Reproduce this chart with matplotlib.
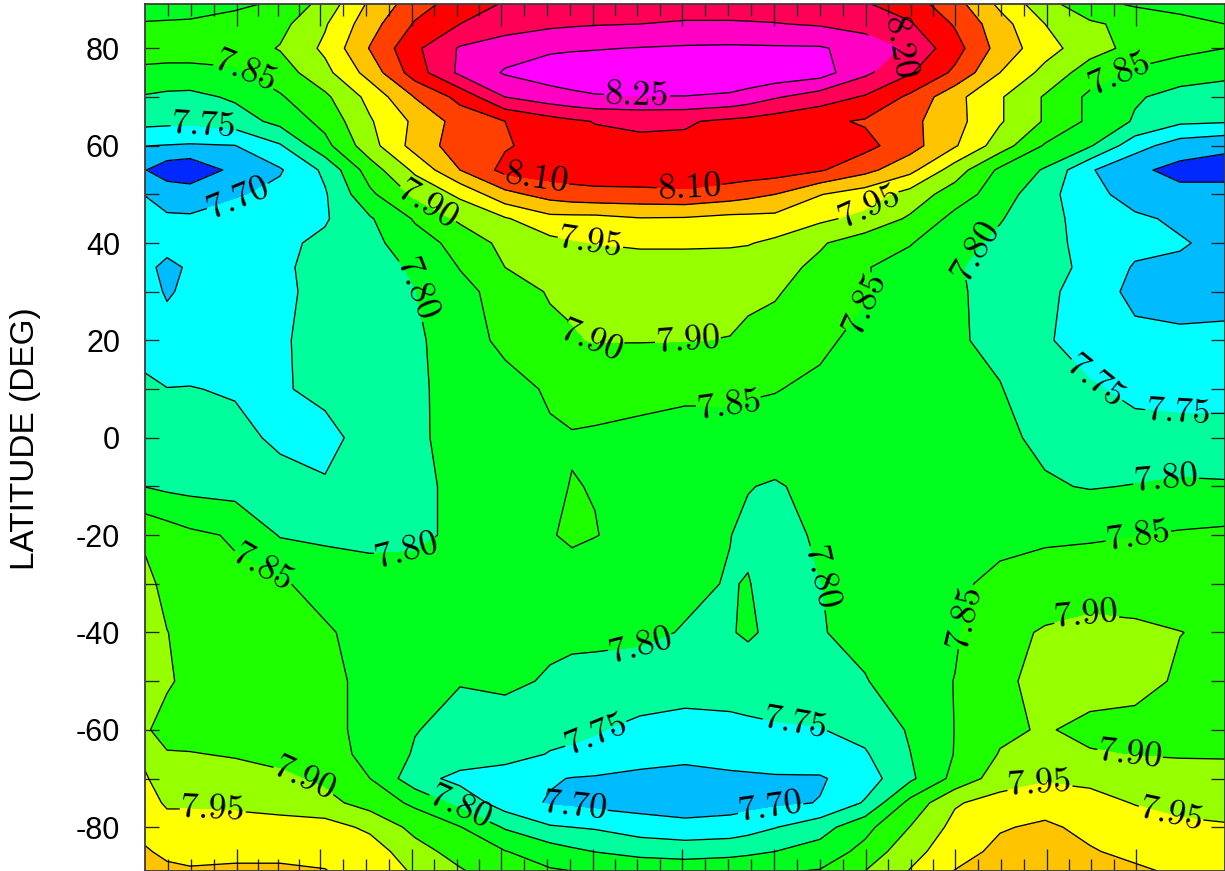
import numpy as np
import matplotlib
matplotlib.use("Agg")
import matplotlib.pyplot as plt

longitudes = [0, 7.33, 15, 30, 45, 60, 75, 90, 105, 120, 135, 142.33, 150, 165, 180, 195, 201, 210, 225, 240, 255, 270, 285, 300, 315, 330, 345, 360]
latitudes = [89, 85, 80, 75, 70, 65, 60, 55, 50, 45, 40, 35, 30, 20, 10, 0, -10, -20, -30, -40, -50, -60, -65, -70, -75, -80, -85, -89]

lat_p89 = [7.83,7.833,7.835,7.843,7.857,7.92,8.01,8.078,8.125,8.155,8.165,8.168,8.172,8.175,8.178,8.178,8.177,8.175,8.17,8.155,8.125,8.07,7.99,7.92,7.865,7.845,7.835,7.83]
lat_p85 = [7.853,7.854,7.855,7.865,7.885,7.945,8.03,8.105,8.15,8.175,8.19,8.194,8.197,8.20,8.205,8.205,8.204,8.202,8.195,8.18,8.155,8.095,8.02,7.95,7.908,7.885,7.865,7.85]
lat_p80 = [7.86,7.862,7.865,7.875,7.903,7.96,8.053,8.14,8.205,8.228,8.242,8.245,8.247,8.252,8.256,8.258,8.257,8.256,8.255,8.23,8.19,8.12,8.03,7.97,7.92,7.885,7.865,7.85]
lat_p75 = [7.845,7.842,7.84,7.842,7.875,7.935,8.02,8.125,8.21,8.255,8.275,8.28,8.285,8.29,8.295,8.295,8.291,8.285,8.272,8.21,8.155,8.09,8.00,7.935,7.875,7.84,7.82,7.81]
lat_p70 = [7.795,7.787,7.785,7.808,7.845,7.89,7.965,8.052,8.115,8.20,8.228,8.238,8.245,8.248,8.248,8.24,8.228,8.205,8.175,8.145,8.09,8.015,7.955,7.895,7.84,7.805,7.785,7.78]
lat_p65 = [7.765,7.762,7.76,7.775,7.815,7.865,7.945,8.01,8.07,8.10,8.13,8.142,8.152,8.158,8.155,8.14,8.135,8.125,8.11,8.095,8.063,8.017,7.955,7.895,7.84,7.795,7.76,7.755]
lat_p60 = [7.701,7.698,7.695,7.699,7.745,7.835,7.93,8.02,8.075,8.095,8.12,8.128,8.135,8.14,8.14,8.135,8.133,8.13,8.125,8.115,8.07,8.005,7.925,7.845,7.805,7.72,7.675,7.66]
lat_p55 = [7.652,7.62,7.61,7.665,7.695,7.76,7.875,7.96,8.05,8.115,8.125,8.128,8.13,8.135,8.135,8.13,8.128,8.125,8.105,8.065,8.015,7.925,7.84,7.795,7.705,7.66,7.635,7.63]
lat_p50 = [7.699,7.685,7.68,7.693,7.715,7.745,7.84,7.91,7.96,8.035,8.07,8.08,8.085,8.085,8.09,8.075,8.065,8.05,8.002,7.975,7.93,7.875,7.825,7.765,7.72,7.675,7.665,7.67]
lat_p45 = [7.715,7.705,7.705,7.725,7.735,7.745,7.795,7.855,7.91,7.945,7.985,7.985,7.985,7.997,7.995,7.985,7.985,7.985,7.96,7.935,7.893,7.835,7.803,7.77,7.725,7.71,7.69,7.685]
lat_p40 = [7.72,7.715,7.725,7.73,7.74,7.76,7.785,7.83,7.865,7.915,7.935,7.945,7.951,7.955,7.955,7.955,7.953,7.94,7.905,7.875,7.853,7.815,7.79,7.76,7.74,7.715,7.705,7.685]
lat_p35 = [7.71,7.69,7.705,7.725,7.74,7.77,7.785,7.805,7.852,7.90,7.925,7.928,7.93,7.935,7.935,7.93,7.924,7.915,7.89,7.853,7.83,7.805,7.78,7.765,7.74,7.695,7.69,7.68]
lat_p30 = [7.72,7.695,7.71,7.725,7.74,7.765,7.78,7.799,7.835,7.87,7.905,7.906,7.91,7.915,7.915,7.91,7.908,7.905,7.875,7.855,7.825,7.81,7.775,7.76,7.73,7.685,7.68,7.685]
lat_p20 = [7.72,7.72,7.72,7.73,7.745,7.765,7.775,7.79,7.83,7.86,7.885,7.897,7.902,7.902,7.901,7.899,7.892,7.88,7.86,7.835,7.82,7.805,7.79,7.755,7.73,7.715,7.71,7.71]
lat_p10 = [7.765,7.751,7.752,7.745,7.745,7.762,7.78,7.793,7.815,7.835,7.855,7.86,7.865,7.862,7.858,7.858,7.855,7.852,7.84,7.825,7.815,7.805,7.802,7.775,7.755,7.74,7.735,7.73]
lat_000 = [7.775,7.77,7.77,7.765,7.74,7.735,7.77,7.79,7.82,7.84,7.845,7.848,7.845,7.84,7.835,7.835,7.833,7.83,7.825,7.82,7.82,7.815,7.81,7.79,7.77,7.765,7.765,7.77]
lat_m10 = [7.799,7.79,7.785,7.78,7.77,7.755,7.775,7.79,7.81,7.83,7.845,7.851,7.849,7.835,7.825,7.81,7.802,7.795,7.815,7.825,7.83,7.83,7.825,7.805,7.797,7.802,7.808,7.805]
lat_m20 = [7.89,7.875,7.86,7.845,7.797,7.79,7.785,7.79,7.81,7.84,7.847,7.857,7.851,7.84,7.825,7.801,7.79,7.775,7.81,7.83,7.84,7.84,7.842,7.843,7.845,7.849,7.855,7.86]
lat_m30 = [7.915,7.885,7.875,7.86,7.855,7.835,7.825,7.82,7.82,7.825,7.83,7.83,7.83,7.825,7.81,7.797,7.803,7.775,7.799,7.82,7.835,7.845,7.857,7.87,7.875,7.875,7.87,7.87]
lat_m40 = [7.93,7.901,7.885,7.88,7.875,7.855,7.835,7.825,7.82,7.815,7.81,7.808,7.81,7.81,7.797,7.797,7.806,7.79,7.797,7.815,7.83,7.845,7.885,7.905,7.915,7.91,7.901,7.89]
lat_m50 = [7.925,7.905,7.89,7.885,7.87,7.855,7.845,7.82,7.802,7.81,7.795,7.79,7.785,7.775,7.775,7.775,7.775,7.775,7.78,7.797,7.83,7.851,7.89,7.915,7.925,7.925,7.89,7.875]
lat_m60 = [7.905,7.885,7.875,7.87,7.86,7.855,7.845,7.802,7.785,7.775,7.762,7.757,7.753,7.74,7.73,7.735,7.74,7.745,7.748,7.765,7.805,7.851,7.89,7.905,7.885,7.875,7.87,7.87]
lat_m65 = [7.94,7.903,7.903,7.895,7.885,7.865,7.84,7.795,7.78,7.765,7.748,7.745,7.74,7.725,7.715,7.72,7.722,7.725,7.73,7.745,7.799,7.852,7.903,7.92,7.905,7.898,7.895,7.895]
lat_m70 = [7.955,7.925,7.925,7.925,7.91,7.89,7.85,7.77,7.735,7.73,7.705,7.698,7.695,7.685,7.68,7.69,7.692,7.695,7.695,7.725,7.79,7.865,7.925,7.945,7.94,7.93,7.925,7.92]
lat_m75 = [7.965,7.945,7.945,7.945,7.94,7.915,7.88,7.84,7.785,7.725,7.695,7.69,7.685,7.68,7.675,7.68,7.684,7.69,7.702,7.755,7.865,7.945,7.97,7.975,7.965,7.948,7.935,7.93]
lat_m80 = [7.985,7.965,7.965,7.96,7.96,7.97,7.94,7.885,7.852,7.795,7.755,7.75,7.745,7.725,7.715,7.72,7.73,7.748,7.78,7.835,7.901,7.965,7.995,8.01,7.985,7.97,7.96,7.955]
lat_m85 = [8.005,7.99,7.985,7.985,7.985,7.985,7.975,7.92,7.88,7.852,7.825,7.81,7.799,7.785,7.78,7.785,7.79,7.80,7.82,7.865,7.935,7.975,8.015,8.025,8.005,7.985,7.975,7.97]
lat_m89 = [8.02,8.01,8.005,8.01,8.01,8.002,7.975,7.945,7.905,7.87,7.855,7.85,7.845,7.835,7.83,7.835,7.84,7.845,7.853,7.90,7.952,8.002,8.02,8.03,8.02,8.01,7.99,7.98]

levels = [7.65, 7.70, 7.75, 7.80, 7.85, 7.90, 7.95, 8.00, 8.05, 8.10, 8.15, 8.20, 8.25]
fill_colors = ['#0028ff', '#00bcff', '#00ffff', '#00ff9c', '#00ff1e', '#1eff00', '#96ff00',
               '#ffff00', '#ffc400', '#ff4000', '#ff0000', '#ff0056', '#ff00c4', '#ff00ff']
y_ticks = [80, 60, 40, 20, 0, -20, -40, -60, -80]
y_tick_labels = ['80', '60', '40', '20', '0', '-20', '-40', '-60', '-80']
y_label = 'LATITUDE (DEG)'


def lon_of(px):
    return (px - 145) / 3.0


def lat_of(py):
    return (438 - py) / 4.87


x_major_px = [236.9, 319.9, 411.9, 501, 592.7, 682.2, 773.8, 865.8, 955, 1046.9, 1135.8]
x_minor_px = [167.7, 190.8, 213.9, 257.6, 278.3, 298.9, 343, 365.7, 388.8, 433.6, 456.6, 478.7,
              523.8, 546.5, 569.6, 615, 637.4, 659.8, 705, 728, 751.1, 796.9, 820, 843,
              888.2, 910.6, 932.6, 978, 1000.8, 1023.8, 1069.3, 1091.3, 1113.7]

label_spots = {
    7.70: [(240, 203), (575, 805), (770, 805)],
    7.75: [(203, 132), (1090, 390), (1178, 413), (595, 733), (795, 726)],
    7.80: [(985, 258), (415, 290), (1166, 480), (820, 578), (407, 557), (640, 645), (460, 808)],
    7.85: [(246, 70), (1118, 72), (863, 302), (729, 407), (1138, 535), (265, 565), (975, 620)],
    7.90: [(429, 202), (593, 337), (688, 340), (1088, 622), (1130, 755), (305, 778)],
    7.95: [(590, 245), (868, 205), (213, 805), (1040, 785), (1170, 818)],
    8.10: [(536, 182), (690, 191)],
    8.20: [(907, 55)],
    8.25: [(637, 96)],
}

grid = np.array([lat_p89, lat_p85, lat_p80, lat_p75, lat_p70, lat_p65, lat_p60, lat_p55, lat_p50,
                 lat_p45, lat_p40, lat_p35, lat_p30, lat_p20, lat_p10, lat_000, lat_m10, lat_m20,
                 lat_m30, lat_m40, lat_m50, lat_m60, lat_m65, lat_m70, lat_m75, lat_m80, lat_m85, lat_m89])

plt.rcParams['font.family'] = ['Liberation Sans', 'DejaVu Sans']

fig = plt.figure(figsize=(12.25, 8.71), dpi=100)
ax = fig.add_axes([145 / 1225, 0, 1080 / 1225, 866.5 / 871])

ax.contourf(longitudes, latitudes, grid, levels=levels, colors=fill_colors, extend='both')

ax.set_xlim(0, 360)
ax.set_ylim(-89, 89)

with plt.rc_context({'font.family': 'cmr10', 'axes.formatter.use_mathtext': True}):
    for level in levels:
        lines = ax.contour(longitudes, latitudes, grid, levels=[level], colors='k', linewidths=0.95)
        spots = label_spots.get(level)
        if spots:
            pts = [(lon_of(px), lat_of(py)) for px, py in spots]
            lines.clabel(manual=pts, fmt='%.2f', fontsize=26, colors='k',
                         inline=True, inline_spacing=1)

spine_color = '#3c3c3c'
for s in ax.spines.values():
    s.set_color(spine_color)
    s.set_linewidth(1.3)

ax.set_xticks([lon_of(p) for p in x_major_px])
ax.set_xticks([lon_of(p) for p in x_minor_px], minor=True)
ax.tick_params(axis='x', which='major', direction='in', top=True, bottom=True, length=16,
               width=0.95, labelbottom=False, color='#222222')
ax.tick_params(axis='x', which='minor', direction='in', top=True, bottom=True, length=8.5,
               width=0.95, color='#222222')

ax.set_yticks(y_ticks)
ax.set_yticklabels(y_tick_labels)
ax.set_yticks(np.arange(-80, 81, 10), minor=True)
ax.tick_params(axis='y', which='both', direction='in', left=True, right=True, length=10,
               width=0.95, color='#222222')
ax.tick_params(axis='y', which='major', labelsize=22, pad=18)

fig.text(26 / 1225, 1 - 439 / 871, y_label, rotation=90, ha='center', va='center', fontsize=24)

fig.savefig('out.png', dpi=100)
